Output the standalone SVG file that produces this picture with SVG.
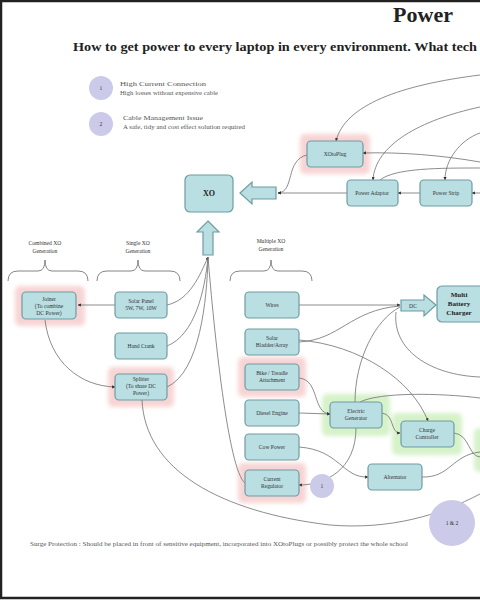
<svg xmlns="http://www.w3.org/2000/svg" width="480" height="600" viewBox="0 0 480 600">
<style>
.n{fill:#b9dfe3;stroke:#6f9ca2;stroke-width:1.2}
.pk{fill:#f7d4d4}
.gr{fill:#d6f2c9}
.t{font-family:"Liberation Serif",serif;font-size:5.6px;fill:#333;text-anchor:middle}
.b{font-family:"Liberation Serif",serif;font-weight:bold;fill:#222;text-anchor:middle}
.c{fill:none;stroke:#707070;stroke-width:0.8}
.br{fill:none;stroke:#777;stroke-width:0.9}
.cir{fill:#cbcbe9}
.s{font-family:"Liberation Serif",serif;fill:#555}
</style>
<defs>
<marker id="a" viewBox="0 0 6 6" refX="5.5" refY="3" markerWidth="4" markerHeight="4" orient="auto">
<path d="M0,0 L6,3 L0,6 z" fill="#333"/>
</marker>
<filter id="blur" x="-20%" y="-20%" width="140%" height="140%"><feGaussianBlur stdDeviation="2"/></filter>
</defs>
<rect x="0" y="0" width="480" height="600" fill="#fff"/>
<rect x="1" y="1" width="490" height="597" fill="none" stroke="#222" stroke-width="2.5"/>

<text x="423" y="22" class="b" font-size="22">Power</text>
<text x="73" y="51" font-family="Liberation Serif,serif" font-weight="bold" font-size="12.5" fill="#222" textLength="404" lengthAdjust="spacingAndGlyphs">How to get power to every laptop in every environment. What tech</text>

<g id="legend">
<circle cx="101" cy="88" r="12" class="cir"/>
<text x="101" y="90" class="t" font-size="5">1</text>
<text x="120" y="86" class="s" font-size="7" textLength="86" lengthAdjust="spacingAndGlyphs">High Current Connection</text>
<text x="120" y="95" class="s" font-size="5.5" textLength="98" lengthAdjust="spacingAndGlyphs">High losses without expensive cable</text>
<circle cx="101" cy="124" r="12" class="cir"/>
<text x="101" y="126" class="t" font-size="5">2</text>
<text x="123" y="120" class="s" font-size="7" textLength="80" lengthAdjust="spacingAndGlyphs">Cable Management Issue</text>
<text x="123" y="129" class="s" font-size="5.5" textLength="122" lengthAdjust="spacingAndGlyphs">A safe, tidy and cost effect solution required</text>
</g>

<g id="braces">
<path class="br" d="M8,281 Q8,271 18,271 L38,271 Q45,271 45,260 Q45,271 52,271 L78,271 Q88,271 88,281"/>
<text x="45" y="245" class="t">Combined XO</text><text x="45" y="253" class="t">Generation</text>
<path class="br" d="M97,281 Q97,271 107,271 L131,271 Q138,271 138,260 Q138,271 145,271 L170,271 Q180,271 180,281"/>
<text x="138" y="245" class="t">Single XO</text><text x="138" y="253" class="t">Generation</text>
<path class="br" d="M230,281 Q230,271 240,271 L264,271 Q271,271 271,260 Q271,271 278,271 L302,271 Q312,271 312,281"/>
<text x="271" y="243" class="t">Multiple XO</text><text x="271" y="251" class="t">Generation</text>
</g>

<g id="halos" filter="url(#blur)">
<rect x="300" y="134" width="70" height="40" rx="5" class="pk"/>
<rect x="15" y="286" width="70" height="40" rx="5" class="pk"/>
<rect x="108" y="367" width="66" height="40" rx="5" class="pk"/>
<rect x="238" y="357" width="68" height="40" rx="5" class="pk"/>
<rect x="238" y="463" width="68" height="40" rx="5" class="pk"/>
<rect x="322" y="394" width="68" height="42" rx="5" class="gr"/>
<rect x="392" y="413" width="70" height="42" rx="5" class="gr"/>
<rect x="474" y="428" width="20" height="44" rx="5" class="gr"/>
</g>

<g id="connectors">
<path class="c" d="M167,305 C190,300 200,275 208,257" marker-end="url(#a)"/>
<path class="c" d="M167,346 C195,335 205,290 208,257"/>
<path class="c" d="M167,387 C200,372 207,300 208,257"/>
<path class="c" d="M245,483 C228,470 214,330 208,257"/>
<path class="c" d="M115,305 L78,305" marker-end="url(#a)"/>
<path class="c" d="M45,320 C50,362 80,386 115,387" marker-end="url(#a)"/>
<path class="c" d="M142,400 C145,470 220,512 330,525 C390,530 440,515 480,494"/>
<path class="c" d="M299,305 L400,305" marker-end="url(#a)"/>
<path class="c" d="M299,342 C340,340 350,310 400,306"/>
<path class="c" d="M299,340 C360,345 412,380 428,421" marker-end="url(#a)"/>
<path class="c" d="M355,402 C355,360 375,320 400,307"/>
<path class="c" d="M480,377 C430,375 392,350 396,312"/>
<path class="c" d="M299,378 C320,380 312,413 330,414" marker-end="url(#a)"/>
<path class="c" d="M299,413 L330,414" marker-end="url(#a)"/>
<path class="c" d="M299,447 C340,450 342,478 368,477" marker-end="url(#a)"/>
<path class="c" d="M356,428 C356,470 325,485 299,485" marker-end="url(#a)"/>
<path class="c" d="M382,413 C395,415 390,433 400,433" marker-end="url(#a)"/>
<path class="c" d="M360,402 C380,392 440,393 480,398"/>
<path class="c" d="M454,433 C470,435 468,456 480,457"/>
<path class="c" d="M422,477 C450,478 452,455 480,452"/>
<path class="c" d="M307,155 C285,160 295,192 278,193" marker-end="url(#a)"/>
<path class="c" d="M347,193 L278,193" marker-end="url(#a)"/>
<path class="c" d="M420,193 L398,193" marker-end="url(#a)"/>
<path class="c" d="M480,193 L472,193" marker-end="url(#a)"/>
<path class="c" d="M480,162 C440,155 400,152 363,153" marker-end="url(#a)"/>
<path class="c" d="M480,75 C400,85 345,105 336,141" marker-end="url(#a)"/>
<path class="c" d="M480,107 C420,120 375,145 373,180" marker-end="url(#a)"/>
<path class="c" d="M480,133 C460,140 445,160 445,180" marker-end="url(#a)"/>
<path class="c" d="M480,168 C440,168 395,168 380,180"/>
</g>

<g id="xo"><rect x="185" y="175" width="48" height="37" rx="5" class="n"/><text x="209" y="196" class="b" font-size="8">XO</text></g>
<g id="arrow-up"><path class="n" d="M208,221 L219,232 L213,232 L213,255 L203,255 L203,232 L197,232 Z"/></g>
<g id="arrow-left"><path class="n" d="M240,193 L252,182 L252,187 L276,187 L276,199 L252,199 L252,204 Z"/></g>
<g id="xotoplug"><rect x="307" y="141" width="56" height="26" rx="4" class="n"/><text x="335" y="156" class="t">XOtoPlug</text></g>
<g id="power-adaptor"><rect x="347" y="180" width="51" height="26" rx="4" class="n"/><text x="372" y="195" class="t">Power Adaptor</text></g>
<g id="power-strip"><rect x="420" y="180" width="52" height="26" rx="4" class="n"/><text x="446" y="195" class="t">Power Strip</text></g>
<g id="dc"><path class="n" d="M401,300 L424,300 L424,295 L436,305 L424,316 L424,311 L401,311 Z"/><text x="413" y="307.5" class="t">DC</text></g>
<g id="multi-battery-charger"><rect x="437" y="286" width="60" height="36" rx="5" class="n"/><text x="459" y="297" class="b" font-size="7">Multi</text><text x="459" y="306" class="b" font-size="7">Battery</text><text x="459" y="315" class="b" font-size="7">Charger</text></g>
<g id="wires"><rect x="245" y="292" width="54" height="26" rx="4" class="n"/><text x="272" y="307" class="t">Wires</text></g>
<g id="solar-bladder"><rect x="245" y="329" width="54" height="26" rx="4" class="n"/><text x="272" y="340" class="t">Solar</text><text x="272" y="347" class="t">Bladder/Array</text></g>
<g id="bike"><rect x="245" y="364" width="54" height="26" rx="4" class="n"/><text x="272" y="375" class="t">Bike / Treadle</text><text x="272" y="382" class="t">Attachment</text></g>
<g id="diesel"><rect x="245" y="400" width="54" height="26" rx="4" class="n"/><text x="272" y="415" class="t">Diesel Engine</text></g>
<g id="cow"><rect x="245" y="434" width="54" height="26" rx="4" class="n"/><text x="272" y="449" class="t">Cow Power</text></g>
<g id="current-regulator"><rect x="245" y="470" width="54" height="26" rx="4" class="n"/><text x="272" y="481" class="t">Current</text><text x="272" y="488" class="t">Regulator</text></g>
<g id="electric-generator"><rect x="330" y="402" width="52" height="26" rx="4" class="n"/><text x="356" y="413" class="t">Electric</text><text x="356" y="420" class="t">Generator</text></g>
<g id="charge-controller"><rect x="401" y="421" width="53" height="26" rx="4" class="n"/><text x="427" y="432" class="t">Charge</text><text x="427" y="439" class="t">Controller</text></g>
<g id="alternator"><rect x="368" y="464" width="54" height="26" rx="4" class="n"/><text x="395" y="479" class="t">Alternator</text></g>
<g id="joiner"><rect x="22" y="292" width="54" height="27" rx="4" class="n"/><text x="49" y="301" class="t">Joiner</text><text x="49" y="308" class="t">(To combine</text><text x="49" y="315" class="t">DC Power)</text></g>
<g id="solar-panel"><rect x="115" y="292" width="52" height="26" rx="4" class="n"/><text x="141" y="303" class="t">Solar Panel</text><text x="141" y="310" class="t">5W, 7W, 10W</text></g>
<g id="hand-crank"><rect x="115" y="333" width="52" height="26" rx="4" class="n"/><text x="141" y="348" class="t">Hand Crank</text></g>
<g id="splitter"><rect x="115" y="374" width="52" height="26" rx="4" class="n"/><text x="141" y="381" class="t">Splitter</text><text x="141" y="388" class="t">(To share DC</text><text x="141" y="395" class="t">Power)</text></g>
<g id="issue-1"><circle cx="322" cy="486" r="12" class="cir"/><text x="322" y="488" class="t" font-size="5">1</text></g>
<g id="issue-1-2"><circle cx="452" cy="523" r="23" class="cir"/><text x="452" y="525" class="t" font-size="5.5">1 &amp; 2</text></g>

<text x="30" y="546" class="s" font-size="5.5" textLength="378" lengthAdjust="spacingAndGlyphs">Surge Protection : Should be placed in front of sensitive equipment, incorporated into XOtoPlugs or possibly protect the whole school</text>
</svg>
